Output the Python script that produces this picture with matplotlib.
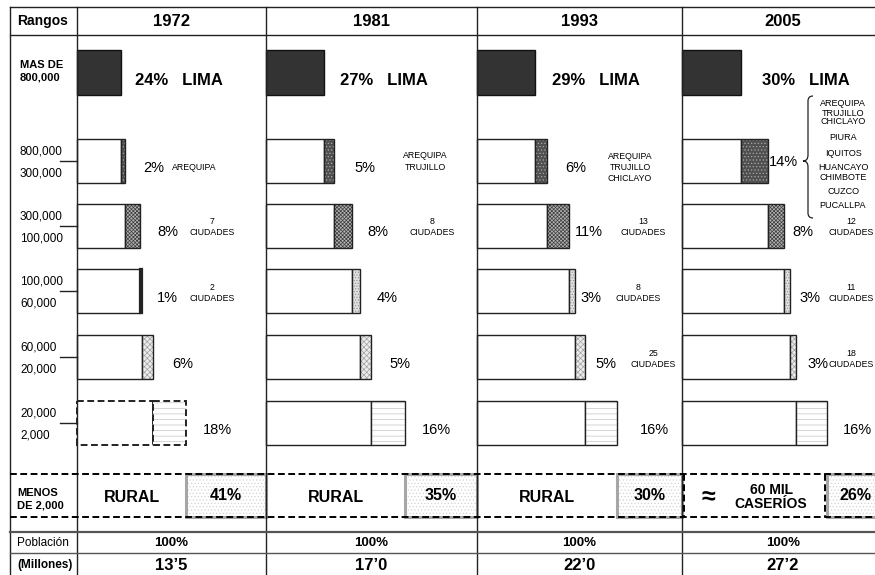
import matplotlib
matplotlib.use('Agg')
import matplotlib.pyplot as plt
from matplotlib.patches import Rectangle, PathPatch
from matplotlib.path import Path

plt.rcParams['font.family'] = ['Liberation Sans', 'DejaVu Sans']
plt.rcParams['hatch.linewidth'] = 0.5

# ---- data (percent of total population) ----
years = ['1972', '1981', '1993', '2005']
lima = [24, 27, 29, 30]
r800_300 = [2, 5, 6, 14]
r300_100 = [8, 8, 11, 8]
r100_60 = [1, 4, 3, 3]
r60_20 = [6, 5, 5, 3]
r20_2 = [18, 16, 16, 16]
rural = [41, 35, 30, 26]
pop_total = ['100%', '100%', '100%', '100%']
pop_millions = ['13\u20195', '17\u20190', '22\u20190', '27\u20192']

range_labels = [('800,000', '300,000'), ('300,000', '100,000'), ('100,000', '60,000'),
                ('60,000', '20,000'), ('20,000', '2,000')]
city_notes = {
    (0, 0): 'AREQUIPA', (0, 1): '7\nCIUDADES', (0, 2): '2\nCIUDADES',
    (1, 0): 'AREQUIPA\nTRUJILLO', (1, 1): '8\nCIUDADES',
    (2, 0): 'AREQUIPA\nTRUJILLO\nCHICLAYO', (2, 1): '13\nCIUDADES',
    (2, 2): '8\nCIUDADES', (2, 3): '25\nCIUDADES',
    (3, 1): '12\nCIUDADES', (3, 2): '11\nCIUDADES', (3, 3): '18\nCIUDADES',
}
cities_2005 = ['AREQUIPA', 'TRUJILLO', 'CHICLAYO', 'PIURA', 'IQUITOS',
               'HUANCAYO', 'CHIMBOTE', 'CUZCO', 'PUCALLPA']

# ---- layout (pixel space) ----
col_edges = [77, 266, 477, 682, 884]
px_per_pct = [1.85, 2.14, 2.0, 1.96]
lima_y, bar_h = 72.5, 44
row_y = [160.5, 225.5, 291, 356.5, 422.5]
lima_gap = [14, 16, 17, 21]
pct_gap = [[18, 17, 15, 19, 17], [20, 16, 16, 19, 17],
            [18, 6, 5, 10, 23], [1, 8, 10, 12, 16]]
note_pos = {
    (0, 0): (172, 168, 'left'), (0, 1): (212, 227, 'center'), (0, 2): (212, 293, 'center'),
    (1, 0): (425, 161.5, 'center'), (1, 1): (432, 227, 'center'),
    (2, 0): (630, 167.5, 'center'), (2, 1): (643, 227, 'center'),
    (2, 2): (638, 293, 'center'), (2, 3): (653, 359, 'center'),
    (3, 1): (851, 227, 'center'), (3, 2): (851, 293, 'center'), (3, 3): (851, 359, 'center'),
}
city_y_2005 = [104, 113, 122, 138, 153, 168, 177, 191, 206]
seg_style = [
    dict(facecolor='#505050', hatch='.....', edgecolor='#a8a8a8'),
    dict(facecolor='#b4b4b4', hatch='xxxxxxxxx', edgecolor='#3c3c3c'),
    dict(facecolor='#e0e0e0', hatch='......', edgecolor='#909090'),
    dict(facecolor='#ececec', hatch='xxxxxx', edgecolor='#a0a0a0'),
    dict(facecolor='white', hatch='---', edgecolor='#c4c4c4'),
]
dash = (0, (3.5, 1.8))

fig = plt.figure(figsize=(8.75, 5.75), dpi=100)
ax = fig.add_axes([0, 0, 1, 1])
ax.set_xlim(0, 875)
ax.set_ylim(575, 0)
ax.axis('off')

# grid lines
for x in [10] + col_edges[:-1]:
    ax.plot([x, x], [7, 575], color='#222222', lw=1.0)
ax.plot([10, 875], [7, 7], color='#222222', lw=1.0)
ax.plot([10, 875], [35, 35], color='#222222', lw=1.0)
ax.plot([10, 875], [532, 532], color='#555555', lw=1.6)
ax.plot([10, 875], [553, 553], color='#555555', lw=1.0)
for y in (474, 517):
    ax.plot([10, 875], [y, y], color='black', lw=1.4, linestyle=dash)

ax.text(43, 21, 'Rangos', ha='center', va='center', fontsize=10, fontweight='bold')
ax.text(20, 71, 'MAS DE\n800,000', ha='left', va='center', fontsize=8, fontweight='bold',
        linespacing=1.25)
for (hi, lo), y in zip(range_labels, row_y):
    ax.text(20, y - 9, hi, ha='left', va='center', fontsize=8.5)
    ax.text(20, y + 13, lo, ha='left', va='center', fontsize=8.5)
    ax.plot([60, 77], [y, y], color='#222222', lw=1.0)
ax.text(17, 499, 'MENOS\nDE 2,000', ha='left', va='center', fontsize=8, fontweight='bold',
        linespacing=1.3)
ax.text(17, 543, 'Población', ha='left', va='center', fontsize=8.5)
ax.text(17, 565, '(Millones)', ha='left', va='center', fontsize=8.5, fontweight='bold')

urban = [r800_300, r300_100, r100_60, r60_20, r20_2]

for c, year in enumerate(years):
    left, right = col_edges[c], col_edges[c + 1]
    s = px_per_pct[c]
    mid = (left + right) / 2
    ax.text(mid, 21, year, ha='center', va='center', fontsize=12, fontweight='bold')

    # Lima
    ax.barh(lima_y, lima[c] * s, left=left, height=bar_h + 1, color='#333333',
            edgecolor='#111111', lw=1.0)
    ax.text(left + lima[c] * s + lima_gap[c], lima_y + 8, f'{lima[c]}%   LIMA',
            ha='left', va='center', fontsize=12, fontweight='bold')

    cum = lima[c]
    for k, series in enumerate(urban):
        v = series[c]
        y = row_y[k]
        dashed = (c == 0 and k == 4)
        ls = dash if dashed else '-'
        elw = 1.4 if dashed else 1.0
        ax.barh(y, cum * s, left=left, height=bar_h, color='white',
                edgecolor='#222222', lw=elw, linestyle=ls)
        ax.barh(y, v * s, left=left + cum * s, height=bar_h, lw=0, **seg_style[k])
        ax.barh(y, v * s, left=left + cum * s, height=bar_h, fill=False,
                edgecolor='#222222', lw=1.6 if v == 1 else elw, linestyle=ls)
        cum += v
        dy = 1 if (c == 3 and k == 0) else 7
        ax.text(left + cum * s + pct_gap[c][k], y + dy, f'{v}%', ha='left',
                va='center', fontsize=10.5)
        if (c, k) in city_notes:
            nx, ny, ha = note_pos[(c, k)]
            ax.text(nx, ny, city_notes[(c, k)], ha=ha, va='center', fontsize=6.3,
                    linespacing=1.35)

    # rural box
    box_left = left + cum * s
    ax.add_patch(Rectangle((box_left, 474), right - box_left, 43, facecolor='white',
                           hatch='.....', edgecolor='#d4d4d4', lw=0))
    ax.add_patch(Rectangle((box_left, 474), right - box_left, 43, fill=False,
                           edgecolor='#a6a6a6', lw=2.2))
    ax.text((box_left + right) / 2, 496, f'{rural[c]}%', ha='center', va='center',
            fontsize=11.5, fontweight='bold', clip_on=True)
    if year == '2005':
        for x in (left + 2, box_left - 2):
            ax.plot([x, x], [474, 517], color='black', lw=1.4, linestyle=dash)
        ax.text(708, 497, '\u2248', ha='center', va='center', fontsize=18, fontweight='bold')
        ax.text(771, 497, '60 MIL\nCASERÍOS', ha='center', va='center', fontsize=10,
                fontweight='bold', linespacing=1.05)
    else:
        ax.text((left + box_left) / 2, 497, 'RURAL', ha='center', va='center',
                fontsize=11.5, fontweight='bold')

    ax.text(mid, 543, pop_total[c], ha='center', va='center', fontsize=9.5, fontweight='bold')
    ax.text(mid, 565, pop_millions[c], ha='center', va='center', fontsize=12,
            fontweight='bold')

# brace with the 2005 cities of the 800,000-300,000 range
verts = [(813, 96), (808, 96), (808, 101), (808, 155), (808, 161), (803, 161),
         (808, 161), (808, 167), (808, 213), (808, 218), (813, 218)]
codes = [Path.MOVETO, Path.CURVE3, Path.CURVE3, Path.LINETO, Path.CURVE3, Path.CURVE3,
         Path.CURVE3, Path.CURVE3, Path.LINETO, Path.CURVE3, Path.CURVE3]
ax.add_patch(PathPatch(Path(verts, codes), fill=False, edgecolor='#222222', lw=0.9))
for name, y in zip(cities_2005, city_y_2005):
    ax.text(843, y, name, ha='center', va='center', fontsize=6.5)

fig.savefig('out.png', dpi=100)
